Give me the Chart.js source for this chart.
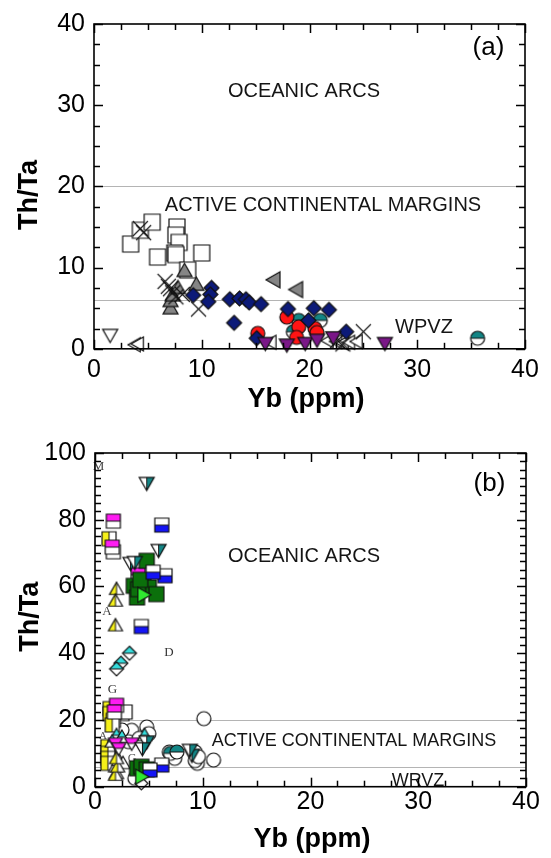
<!DOCTYPE html>
<html>
<head>
<meta charset="utf-8">
<script src="https://cdn.jsdelivr.net/npm/chart.js@4.4.1/dist/chart.umd.min.js"></script>
<style>
  html, body { margin: 0; padding: 0; background: #fff; }
  #wrap { position: relative; width: 551px; height: 858px; overflow: hidden; background: #fff; }
  #wrap canvas { position: absolute; left: 0; display: block; }
</style>
</head>
<body>
<div id="wrap">
  <canvas id="panelA" width="551" height="429" style="top:0px"></canvas>
  <canvas id="panelB" width="551" height="429" style="top:429px"></canvas>
</div>
<script>
// Th/Ta versus Yb (ppm) tectonic-setting plots, panels (a) and (b)

const ybTicks = [0, 10, 20, 30, 40];
const thTaTicksA = [0, 10, 20, 30, 40];
const thTaTicksB = [0, 20, 40, 60, 80, 100];
const fieldBoundaries = [20, 6];   // oceanic arc / active margin / WPVZ limits

// ---- panel (a) samples: [Yb, Th/Ta] ----
const aOpenSquares = [[3.4,12.9],[4.3,14.6],[5.4,15.6],[5.9,11.3],[7.7,15.0],[7.6,14.0],[7.9,13.1],[7.5,11.8],[7.6,11.6],[10.0,11.8],[8.7,9.7]];
const aCrosses = [[4.3,14.8],[4.6,14.3],[6.6,8.3],[6.9,7.7],[7.1,7.4],[7.3,6.9],[7.6,6.4],[8.2,6.7],[9.7,4.9],[25.0,2.1],[22.6,1.0],[23.1,0.6]];
const aGrayTriangles = [[7.1,5.0],[7.1,5.9],[7.3,6.6],[7.8,7.5],[8.4,9.6],[9.5,7.9]];
const aGrayLeftTriangles = [[16.7,8.5],[18.8,7.3]];
const aOpenDownTriangles = [[1.5,1.7]];
const aOpenLeftTriangles = [[3.8,0.5],[4.1,0.6],[16.4,0.8],[21.7,1.0],[22.5,0.9],[23.1,0.7],[23.7,0.8],[24.4,0.9]];
const aNavyDiamonds = [[9.2,6.6],[10.9,7.5],[10.8,6.7],[10.6,5.8],[12.6,6.1],[13.5,6.2],[14.1,6.1],[14.4,5.7],[15.5,5.5],[13.0,3.2],[18.0,4.9],[20.4,5.0],[21.8,4.8],[19.9,3.5],[23.4,2.1],[15.1,1.3]];
const aTealCircles = [[19.0,3.5],[21.0,3.5],[18.5,2.1],[35.6,1.3]];
const aRedCircles = [[17.9,3.9],[15.2,1.9],[19.0,2.7],[18.8,1.4],[20.5,2.5],[20.7,2.0]];
const aPurpleDownTriangles = [[15.9,0.7],[17.9,0.5],[19.6,0.7],[20.7,1.1],[22.2,1.4],[27.0,0.7]];

// ---- panel (b) samples: [Yb, Th/Ta] ----
const bOpenCircles = [[10.1,20.4],[11.0,8.0],[9.5,7.0],[9.3,7.8],[3.4,16.9],[4.8,17.9],[5.0,15.9],[6.9,10.4],[7.4,8.5],[9.3,10.4],[9.6,9.0],[3.7,2.5],[3.1,13.5],[4.1,14.5],[2.5,17.0]];
const bWhiteSquares = [[2.5,21.9],[2.8,22.4],[1.7,70.4]];
const bYellowSquares = [[1.3,74.3],[1.4,23.4],[1.4,21.9],[1.7,19.9],[1.6,18.5],[1.2,12.0],[1.2,10.0],[1.2,8.5],[1.2,7.0]];
const bMagentaSquares = [[1.7,79.6],[1.6,71.8],[4.0,63.5],[2.0,24.4],[1.8,22.4]];
const bBlueSquares = [[6.2,78.4],[6.5,63.2],[5.4,64.3],[4.3,48.0],[6.2,6.5],[5.1,5.0]];
const bGreenSquares = [[4.8,67.7],[4.5,61.2],[3.6,60.2],[3.9,56.7],[5.0,59.7],[5.7,57.7],[4.0,59.2],[4.2,62.0],[3.9,5.5],[4.3,6.0],[4.8,5.2]];
const bLimeTriangles = [[4.5,57.5],[4.3,3.0]];
const bTealDownTriangles = [[4.8,91.0],[5.9,70.9],[3.3,67.0],[3.7,67.3],[4.8,13.5],[4.4,11.5],[9.0,9.5],[8.8,11.0]];
const bYellowTriangles = [[2.0,59.2],[1.9,55.7],[1.9,48.3],[1.9,3.5],[2.1,6.0],[2.0,8.5]];
const bCyanDiamonds = [[3.2,40.0],[2.4,37.0],[2.0,35.3]];
const bOpenDiamonds = [[4.3,1.0]];
const bCyanTriangles = [[2.0,15.4],[2.5,14.9],[4.6,15.4],[1.6,13.5]];
const bMagentaDownTriangles = [[3.4,13.0],[1.9,13.0],[2.2,11.5]];
const bTealCircles = [[7.0,10.0],[7.6,10.4]];
const bBlackTriangles = [[1.9,6.0],[2.2,8.0],[2.6,7.0],[2.0,4.0]];

// ---------- marker images ----------
function tracePath(g, shape, m, h) {
  g.beginPath();
  switch (shape) {
    case 'square': g.rect(m - h, m - h, 2 * h, 2 * h); break;
    case 'circle': g.arc(m, m, h, 0, Math.PI * 2); break;
    case 'diamond':
      g.moveTo(m, m - h); g.lineTo(m + h, m); g.lineTo(m, m + h); g.lineTo(m - h, m); g.closePath(); break;
    case 'up':
      g.moveTo(m, m - h); g.lineTo(m + h, m + h * 0.75); g.lineTo(m - h, m + h * 0.75); g.closePath(); break;
    case 'down':
      g.moveTo(m, m + h); g.lineTo(m + h, m - h * 0.75); g.lineTo(m - h, m - h * 0.75); g.closePath(); break;
    case 'left':
      g.moveTo(m - h, m); g.lineTo(m + h * 0.75, m - h); g.lineTo(m + h * 0.75, m + h); g.closePath(); break;
    case 'right':
      g.moveTo(m + h, m); g.lineTo(m - h * 0.75, m - h); g.lineTo(m - h * 0.75, m + h); g.closePath(); break;
  }
}

function marker(shape, size, fill, split) {
  const pad = 2;
  const d = Math.ceil(size + pad * 2);
  const c = document.createElement('canvas');
  c.width = d; c.height = d;
  const g = c.getContext('2d');
  const m = d / 2, h = size / 2;
  g.lineJoin = 'miter';
  if (shape === 'cross') {
    g.strokeStyle = '#111'; g.lineWidth = 1.1;
    g.beginPath();
    g.moveTo(m - h, m - h); g.lineTo(m + h, m + h);
    g.moveTo(m + h, m - h); g.lineTo(m - h, m + h);
    g.stroke();
    return c;
  }
  tracePath(g, shape, m, h);
  g.fillStyle = fill || '#fff';
  g.fill();
  if (split) {
    g.save();
    tracePath(g, shape, m, h);
    g.clip();
    g.fillStyle = split.color;
    const r = { top: [0, 0, d, m], bottom: [0, m, d, d - m], left: [0, 0, m, d], right: [m, 0, d - m, d] }[split.side];
    g.fillRect(r[0], r[1], r[2], r[3]);
    g.strokeStyle = '#111'; g.lineWidth = 1;
    g.beginPath();
    if (split.side === 'top' || split.side === 'bottom') { g.moveTo(0, m); g.lineTo(d, m); }
    else { g.moveTo(m, 0); g.lineTo(m, d); }
    g.stroke();
    g.restore();
  }
  tracePath(g, shape, m, h);
  g.strokeStyle = '#111'; g.lineWidth = 1.2;
  g.stroke();
  return c;
}

const NAVY = '#0c1a78', RED = '#ff1414', TEAL = '#138585', PURPLE = '#7a1787', GRAY = '#858585';
const MAGENTA = '#ff1cf2', BLUE = '#1414f5', YELLOW = '#f5f01a', GREEN = '#0b700b', LIME = '#2fe82f', CYAN = '#35dcdc';

function series(points, style) {
  return {
    data: points.map(p => ({ x: p[0], y: p[1] })),
    pointStyle: style,
    pointRadius: 7,
    pointHoverRadius: 7,
    pointBorderWidth: 0,
    showLine: false,
    clip: false
  };
}

// ---------- frame, ticks, field boundaries and labels ----------
function drawTickMarks(chart, cfg) {
  const ctx = chart.ctx;
  const a = chart.chartArea;
  const xs = chart.scales.x, ys = chart.scales.y;
  const xLo = ybTicks[0], xHi = ybTicks[ybTicks.length - 1];
  const yLo = cfg.yTicks[0], yHi = cfg.yTicks[cfg.yTicks.length - 1];
  ctx.save();
  ctx.strokeStyle = '#000';
  ctx.lineWidth = 1.5;
  const nx = Math.round((xHi - xLo) / 2.5);
  for (let i = 0; i <= nx; i++) {
    const px = Math.round(xs.getPixelForValue(xLo + i * 2.5)) + 0.5;
    const len = (i % 4 === 0) ? 9 : 6;
    ctx.beginPath();
    ctx.moveTo(px, a.bottom); ctx.lineTo(px, a.bottom - len);
    ctx.stroke();
    ctx.beginPath();
    ctx.moveTo(px, a.top); ctx.lineTo(px, a.top + len);
    ctx.stroke();
  }
  const perMajor = Math.round(cfg.yMajor / 2.5);
  const ny = Math.round((yHi - yLo) / 2.5);
  for (let i = 0; i <= ny; i++) {
    const py = Math.round(ys.getPixelForValue(yLo + i * 2.5)) + 0.5;
    const len = (i % perMajor === 0) ? 9 : 6;
    ctx.beginPath();
    ctx.moveTo(a.left, py); ctx.lineTo(a.left + len, py);
    ctx.stroke();
    ctx.beginPath();
    ctx.moveTo(a.right, py); ctx.lineTo(a.right - len, py);
    ctx.stroke();
  }
  ctx.restore();
}

function decorations(cfg) {
  return {
    id: 'decor_' + cfg.name,
    beforeDatasetsDraw(chart) {
      const ctx = chart.ctx;
      const a = chart.chartArea;
      const ys = chart.scales.y;
      ctx.save();
      // field boundaries
      ctx.strokeStyle = '#b4b4b4'; ctx.lineWidth = 1;
      fieldBoundaries.forEach(v => {
        const py = Math.round(ys.getPixelForValue(v)) + 0.5;
        ctx.beginPath(); ctx.moveTo(a.left, py); ctx.lineTo(a.right, py); ctx.stroke();
      });
      // field names and panel letter
      ctx.textBaseline = 'alphabetic';
      ctx.textAlign = 'center';
      cfg.texts.forEach(t => {
        ctx.font = t.font;
        ctx.fillStyle = t.color || '#151515';
        ctx.fillText(t.text, t.x, t.y);
      });
      // axis titles
      ctx.fillStyle = '#000';
      ctx.font = 'bold 27px "Liberation Sans", Arial, sans-serif';
      ctx.fillText('Yb (ppm)', cfg.xTitle[0], cfg.xTitle[1]);
      ctx.save();
      ctx.translate(cfg.yTitle[0], cfg.yTitle[1]);
      ctx.rotate(-Math.PI / 2);
      ctx.fillText('Th/Ta', 0, 0);
      ctx.restore();
      ctx.restore();
    },
    afterDraw(chart) {
      const ctx = chart.ctx;
      const a = chart.chartArea;
      drawTickMarks(chart, cfg);
      ctx.save();
      ctx.strokeStyle = '#000';
      ctx.lineWidth = 1.6;
      ctx.strokeRect(a.left, a.top, a.right - a.left, a.bottom - a.top);
      ctx.restore();
    }
  };
}

function buildChart(canvasId, cfg, datasets) {
  const n = datasets.length;
  datasets.forEach((d, i) => { d.order = n - i; });
  return new Chart(document.getElementById(canvasId), {
    type: 'scatter',
    data: { datasets },
    options: {
      responsive: false,
      animation: false,
      devicePixelRatio: 1,
      events: [],
      layout: { padding: { left: 0, right: cfg.padRight, top: cfg.padTop, bottom: 0 } },
      plugins: { legend: { display: false }, tooltip: { enabled: false } },
      scales: {
        x: {
          type: 'linear',
          min: ybTicks[0], max: ybTicks[ybTicks.length - 1],
          afterFit(s) { s.height = cfg.xAxisHeight; },
          afterBuildTicks(s) { s.ticks = ybTicks.map(v => ({ value: v })); },
          grid: { display: false, drawTicks: false },
          border: { display: false },
          ticks: { color: '#000', padding: cfg.xPad, maxRotation: 0, autoSkip: false,
                   font: { family: '"Liberation Sans", Arial, sans-serif', size: 25 } }
        },
        y: {
          type: 'linear',
          min: cfg.yTicks[0], max: cfg.yTicks[cfg.yTicks.length - 1],
          afterFit(s) { s.width = cfg.yAxisWidth; },
          afterBuildTicks(s) { s.ticks = cfg.yTicks.map(v => ({ value: v })); },
          grid: { display: false, drawTicks: false },
          border: { display: false },
          ticks: { color: '#000', padding: 9, autoSkip: false,
                   font: { family: '"Liberation Sans", Arial, sans-serif', size: 25 } }
        }
      }
    },
    plugins: [decorations(cfg)]
  });
}

const SANS = '"Liberation Sans", Arial, sans-serif';
const SERIF = '"Liberation Serif", "Times New Roman", serif';

// ---------- panel (a) ----------
buildChart('panelA', {
  name: 'a', yTicks: thTaTicksA, yMajor: 10,
  padTop: 16.5, padRight: 26, xAxisHeight: 80.2, yAxisWidth: 94, xPad: 6,
  xTitle: [306, 406.5], yTitle: [37, 195],
  texts: [
    { text: 'OCEANIC ARCS', x: 304, y: 96.5, font: '20px ' + SANS },
    { text: 'ACTIVE CONTINENTAL MARGINS', x: 323, y: 210.5, font: '20px ' + SANS },
    { text: 'WPVZ', x: 424, y: 332.5, font: '20px ' + SANS },
    { text: '(a)', x: 488.5, y: 54.5, font: '26px ' + SANS, color: '#000' }
  ]
}, [
  series(aOpenLeftTriangles, marker('left', 14, '#fff')),
  series(aOpenDownTriangles, marker('down', 15, '#fff')),
  series(aOpenSquares, marker('square', 16, '#fff')),
  series(aGrayTriangles, marker('up', 15, GRAY)),
  series(aCrosses, marker('cross', 15)),
  series(aGrayLeftTriangles, marker('left', 16, GRAY)),
  series(aTealCircles, marker('circle', 14, '#fff', { side: 'top', color: TEAL })),
  series(aRedCircles, marker('circle', 14, RED)),
  series(aNavyDiamonds, marker('diamond', 15, NAVY)),
  series(aPurpleDownTriangles, marker('down', 15, PURPLE))
]);

// ---------- panel (b) ----------
buildChart('panelB', {
  name: 'b', yTicks: thTaTicksB, yMajor: 20,
  padTop: 22.7, padRight: 25, xAxisHeight: 71.3, yAxisWidth: 95, xPad: 0,
  xTitle: [312, 417.5], yTitle: [38, 187.7],
  texts: [
    { text: 'OCEANIC ARCS', x: 304, y: 132.5, font: '20px ' + SANS },
    { text: 'ACTIVE CONTINENTAL MARGINS', x: 354, y: 316.5, font: '18px ' + SANS },
    { text: 'WRVZ', x: 418, y: 356.5, font: '18px ' + SANS },
    { text: '(b)', x: 489.5, y: 62, font: '26px ' + SANS, color: '#000' },
    { text: 'M', x: 98.5, y: 40.5, font: '13px ' + SERIF, color: '#444' },
    { text: 'A', x: 107, y: 185.5, font: '13px ' + SERIF, color: '#444' },
    { text: 'D', x: 169, y: 227, font: '13px ' + SERIF, color: '#333' },
    { text: 'G', x: 112.5, y: 264, font: '13px ' + SERIF, color: '#333' },
    { text: 'A', x: 103, y: 310, font: '11px ' + SERIF, color: '#555' },
    { text: 'G', x: 132, y: 333, font: '12px ' + SERIF, color: '#555' }
  ]
}, [
  series(bOpenCircles, marker('circle', 14, '#fff')),
  series(bTealCircles, marker('circle', 14, '#fff', { side: 'top', color: TEAL })),
  series(bWhiteSquares, marker('square', 14, '#fff')),
  series(bYellowSquares, marker('square', 14, '#fff', { side: 'left', color: YELLOW })),
  series(bMagentaSquares, marker('square', 14, '#fff', { side: 'top', color: MAGENTA })),
  series(bBlackTriangles, marker('up', 14, '#fff')),
  series(bYellowTriangles, marker('up', 14, '#fff', { side: 'left', color: YELLOW })),
  series(bCyanTriangles, marker('up', 14, '#fff', { side: 'top', color: CYAN })),
  series(bMagentaDownTriangles, marker('down', 14, '#fff', { side: 'top', color: MAGENTA })),
  series(bCyanDiamonds, marker('diamond', 14, '#fff', { side: 'top', color: CYAN })),
  series(bOpenDiamonds, marker('diamond', 13, '#fff')),
  series(bGreenSquares, marker('square', 15, GREEN)),
  series(bBlueSquares, marker('square', 14, '#fff', { side: 'bottom', color: BLUE })),
  series(bLimeTriangles, marker('right', 15, LIME)),
  series(bTealDownTriangles, marker('down', 15, '#fff', { side: 'right', color: TEAL }))
]);
</script>
</body>
</html>
